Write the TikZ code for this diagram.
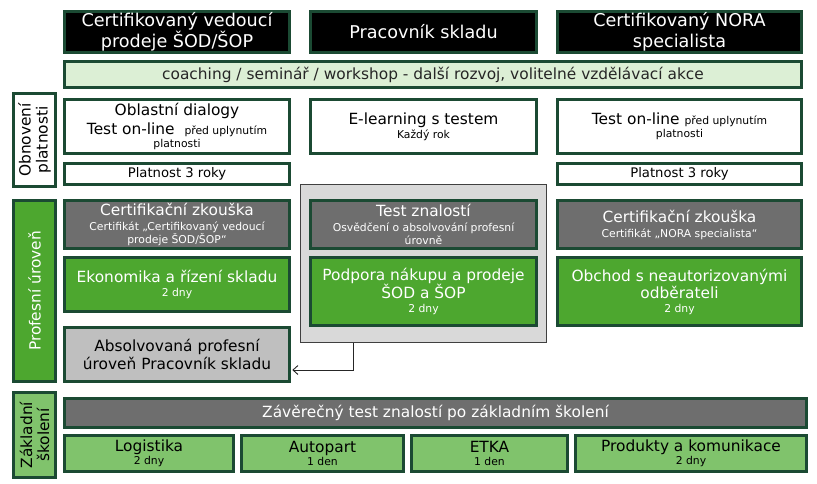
\documentclass[tikz,border=0pt]{standalone}
\usepackage{fontspec}
\setmainfont{DejaVu Sans}
\usetikzlibrary{arrows.meta}
\definecolor{dkg}{HTML}{1B4A33}
\definecolor{coachc}{HTML}{DCEFD5}
\definecolor{grayc}{HTML}{6E6E6E}
\definecolor{greenc}{HTML}{4DA72F}
\definecolor{lgreenc}{HTML}{80C36C}
\definecolor{absc}{HTML}{BFBFBF}
\definecolor{bgc}{HTML}{D9D9D9}
\newcommand\MainTxt{\fontsize{15.4}{17}\selectfont}
\newcommand\HdrTxt{\fontsize{17.6}{21}\selectfont}
\newcommand\Sm{\fontsize{10.8}{13}\selectfont}
\newcommand\bx[7]{\node[#6,minimum width={(#4-#2-2.6)*1pt},minimum height={(#5-#3-2.6)*1pt}] (#1) at ({(#2+#4)/2},{(#3+#5)/2}) {#7};}
\newcommand\sidebx[7]{\node[#6,rotate=90,minimum width={(#5-#3-2.6)*1pt},minimum height={(#4-#2-2.6)*1pt}] (#1) at ({(#2+#4)/2},{(#3+#5)/2}) {#7};}
\tikzset{
  base/.style={draw=dkg,line width=2.6pt,inner sep=0pt,align=center,font=\MainTxt},
  hdr/.style={base,fill=black,text=white,font=\HdrTxt},
  coach/.style={base,fill=coachc,text=black!85},
  white box/.style={base,fill=white,text=black},
  gray box/.style={base,fill=grayc,text=white},
  green box/.style={base,fill=greenc,text=white},
  lgreen box/.style={base,fill=lgreenc,text=black},
  abs box/.style={base,fill=absc,text=black},
  bg box/.style={draw=black!75,line width=0.9pt,fill=bgc,inner sep=0pt}
}
\begin{document}
\begin{tikzpicture}[x=1pt,y=-1pt]
\useasboundingbox[fill=white] (0,0) rectangle (817,483);
% background gray frame
\node[bg box,minimum width=246pt,minimum height=158pt] (bg) at (423.5,263.5) {};
% headers
\bx{h1}{63}{10}{291}{54}{hdr}{Certifikovaný vedoucí\\prodeje ŠOD/ŠOP}
\bx{h2}{309}{10}{538}{54}{hdr}{Pracovník skladu}
\bx{h3}{556}{10}{803}{54}{hdr}{Certifikovaný NORA\\specialista}
\bx{coach}{63}{60}{803}{89}{coach}{coaching / seminář / workshop - další rozvoj, volitelné vzdělávací akce}
% renewal row
\sidebx{s1}{12}{92}{57}{188}{white box}{Obnovení\\platnosti}
\bx{o1}{63}{98}{291}{155}{white box}{Oblastní dialogy\\[2pt]Test on-line \ {\Sm před uplynutím}\\[-4pt]{\Sm platnosti}}
\bx{o2}{309}{98}{538}{155}{white box}{E-learning s testem\\[-3pt]{\Sm Každý rok}}
\bx{o3}{556}{98}{803}{155}{white box}{Test on-line {\Sm před uplynutím}\\[-4pt]{\Sm platnosti}}
\bx{p1}{63}{162}{291}{186}{white box,font=\fontsize{13.2}{15}\selectfont}{Platnost 3 roky}
\bx{p3}{556}{162}{803}{186}{white box,font=\fontsize{13.2}{15}\selectfont}{Platnost 3 roky}
% professional level
\sidebx{s2}{12}{199}{57}{383}{green box}{Profesní úroveň}
\bx{c1}{63}{199}{291}{250}{gray box}{Certifikační zkouška\\[-2pt]{\Sm Certifikát „Certifikovaný vedoucí}\\[-4pt]{\Sm prodeje ŠOD/ŠOP“}}
\bx{c2}{309}{199}{538}{250}{gray box}{Test znalostí\\[-2pt]{\Sm Osvědčení o absolvování profesní}\\[-4pt]{\Sm úrovně}}
\bx{c3}{556}{199}{803}{250}{gray box}{Certifikační zkouška\\[-2pt]{\Sm Certifikát „NORA specialista“}}
\bx{e1}{63}{256}{291}{313}{green box}{Ekonomika a řízení skladu\\[-3pt]{\Sm 2 dny}}
\bx{e2}{309}{256}{538}{327}{green box}{Podpora nákupu a prodeje\\ŠOD a ŠOP\\[-3pt]{\Sm 2 dny}}
\bx{e3}{556}{256}{803}{327}{green box}{Obchod s neautorizovanými\\odběrateli\\[-3pt]{\Sm 2 dny}}
\bx{abs}{63}{326}{291}{383}{abs box}{Absolvovaná profesní\\[1pt]úroveň Pracovník skladu}
% basic training
\sidebx{s3}{12}{391}{57}{479}{lgreen box}{Základní\\školení}
\bx{zt}{63}{397}{808}{429}{gray box}{Závěrečný test znalostí po základním školení}
\bx{b1}{63}{434}{235}{473}{lgreen box}{Logistika\\[-4pt]{\Sm 2 dny}}
\bx{b2}{240}{434}{405}{473}{lgreen box}{Autopart\\[-4pt]{\Sm 1 den}}
\bx{b3}{410}{434}{569}{473}{lgreen box}{ETKA\\[-4pt]{\Sm 1 den}}
\bx{b4}{574}{434}{808}{473}{lgreen box}{Produkty a komunikace\\[-4pt]{\Sm 2 dny}}
% connector
\coordinate (tip) at ([xshift=1.3pt]abs.east |- 0,370);
\draw[line width=0.9pt,black!85,-{Straight Barb[length=5pt,width=9pt]}] (bg.south -| 353,0) |- (tip);
\end{tikzpicture}
\end{document}
